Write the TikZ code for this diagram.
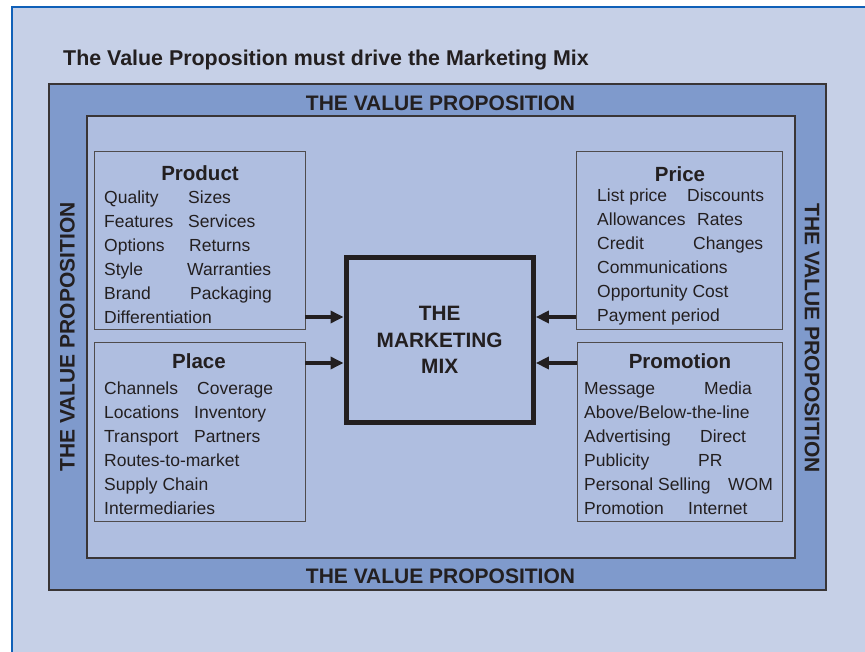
\documentclass[tikz,border=0pt]{standalone}
\usepackage{fontspec}
\setmainfont{Liberation Sans}
\usepackage{tikz}
\usetikzlibrary{arrows.meta}
\definecolor{vpframe}{HTML}{1060B8}
\definecolor{vpback}{HTML}{C6D0E7}
\definecolor{vpband}{HTML}{7F9ACC}
\definecolor{vpinner}{HTML}{AFBEE0}
\definecolor{vptext}{HTML}{231F20}
\tikzset{
  bandbox/.style={rectangle, inner sep=0pt, outer sep=0pt, anchor=north west,
                  draw=vptext!90, line width=1.3pt, fill=#1},
  pbox/.style={rectangle, inner sep=0pt, outer sep=0pt, anchor=north west,
               draw=vptext!80, line width=1pt, fill=vpinner},
  mixbox/.style={rectangle, inner sep=0pt, draw=vptext, line width=5pt,
                 fill=vpinner, align=center, text=vptext,
                 font=\fontsize{20.8}{26.5}\selectfont\bfseries},
  vplabel/.style={inner sep=0pt, text=vptext, font=\fontsize{21}{25}\selectfont\bfseries},
  phead/.style={inner sep=0pt, anchor=base, text=vptext, font=\fontsize{20.5}{24}\selectfont\bfseries},
  pitem/.style={inner sep=0pt, anchor=base west, text=vptext, font=\fontsize{17.5}{21}\selectfont},
  mixarrow/.style={-{Triangle[length=13pt,width=12pt]}, line width=4pt, vptext},
}
\begin{document}
\begin{tikzpicture}[x=1pt,y=-1pt]
  \useasboundingbox (0,0) rectangle (865,652);
  \clip (0,0) rectangle (865,652);
  \fill[white] (0,0) rectangle (865,652);
  \fill[vpback] (12,7) rectangle (900,700);
  \draw[vpframe, line width=2pt] (12,700) -- (12,7) -- (900,7);
  \node[pitem] (title) at (63,65.5) {\fontsize{21.4}{25}\selectfont\bfseries The Value Proposition must drive the Marketing Mix};
  % value proposition band
  \node[bandbox=vpband, minimum width=777, minimum height=506] (band) at (49,84) {};
  \node[bandbox=vpinner, minimum width=708, minimum height=442] (inner) at (87,116) {};
  \node[vplabel] (vptop) at (440.5,103) {THE VALUE PROPOSITION};
  \node[vplabel] (vpbottom) at (440.5,576) {THE VALUE PROPOSITION};
  \node[vplabel, rotate=90] (vpleft) at (67.5,337) {THE VALUE PROPOSITION};
  \node[vplabel, rotate=-90] (vpright) at (812,338) {THE VALUE PROPOSITION};
  % the four Ps
  \node[pbox, minimum width=211, minimum height=178] (product) at (94,152) {};
  \node[pbox, minimum width=211, minimum height=178] (place) at (94,343) {};
  \node[pbox, minimum width=206, minimum height=178] (price) at (576,152) {};
  \node[pbox, minimum width=205, minimum height=178] (promotion) at (577,343) {};
  \node[phead] (producthead) at (200,181) {Product};
  \node[phead] (placehead) at (199,369) {Place};
  \node[phead] (pricehead) at (680,182) {Price};
  \node[phead] (promotionhead) at (680,368) {Promotion};
  \foreach \a/\b/\bx [count=\i from 0] in {Quality/Sizes/188, Features/Services/188,
      Options/Returns/189, Style/Warranties/187, Brand/Packaging/190, Differentiation//190}{
    \node[pitem] (prodl\i) at (104,204+24*\i) {\a};
    \node[pitem] (prodr\i) at (\bx,204+24*\i) {\b};
  }
  \foreach \a/\b/\bx [count=\i from 0] in {Channels/Coverage/197, Locations/Inventory/194,
      Transport/Partners/194, Routes-to-market//194, Supply Chain//194, Intermediaries//194}{
    \node[pitem] (placel\i) at (104,395+23.8*\i) {\a};
    \node[pitem] (placer\i) at (\bx,395+23.8*\i) {\b};
  }
  \foreach \a/\b/\bx [count=\i from 0] in {List price/Discounts/687, Allowances/Rates/697,
      Credit/Changes/693, Communications//693, Opportunity Cost//693, Payment period//693}{
    \node[pitem] (pricel\i) at (597,202+24*\i) {\a};
    \node[pitem] (pricer\i) at (\bx,202+24*\i) {\b};
  }
  \foreach \a/\b/\bx [count=\i from 0] in {Message/Media/704, {Above/Below-the-line}//704,
      Advertising/Direct/700, Publicity/PR/698, Personal Selling/WOM/728, Promotion/Internet/688}{
    \node[pitem] (proml\i) at (584,395+23.8*\i) {\a};
    \node[pitem] (promr\i) at (\bx,395+23.8*\i) {\b};
  }
  % the marketing mix
  \node[mixbox, minimum width=187.3, minimum height=165] (mix) at (439.7,340) {THE\\MARKETING\\MIX};
  \draw[mixarrow] ([yshift=13pt]product.south east) -- ([yshift=13pt]product.south east -| mix.west);
  \draw[mixarrow] ([yshift=-20pt]place.north east) -- ([yshift=-20pt]place.north east -| mix.west);
  \draw[mixarrow] ([yshift=13pt]price.south west) -- ([yshift=13pt]price.south west -| mix.east);
  \draw[mixarrow] ([yshift=-20pt]promotion.north west) -- ([yshift=-20pt]promotion.north west -| mix.east);
\end{tikzpicture}
\end{document}
